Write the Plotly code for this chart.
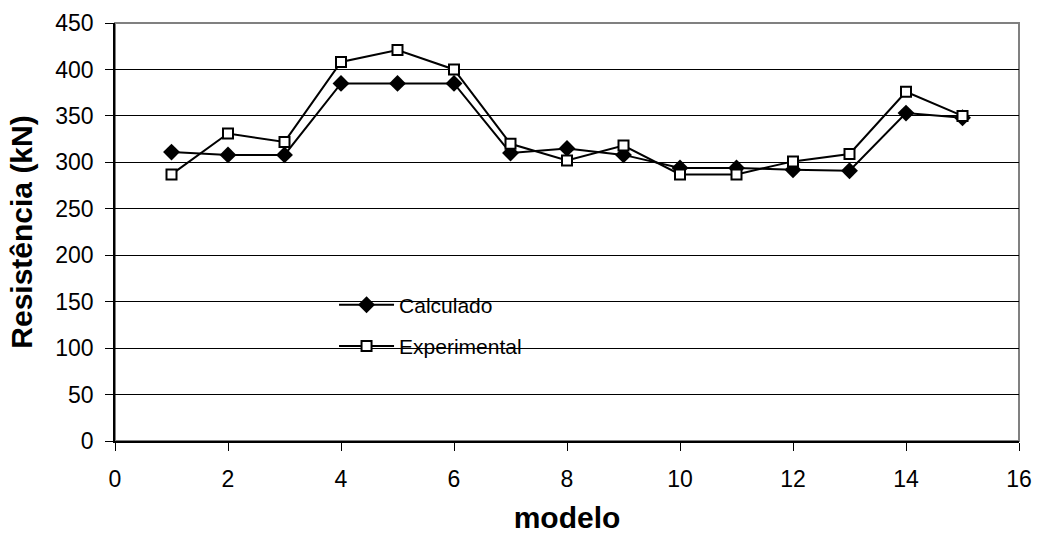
import plotly.graph_objects as go

modelo = list(range(1, 16))
calculado = [311, 308, 308, 385, 385, 385, 310, 315, 308, 294, 294, 292, 291, 353, 348]
experimental = [287, 331, 322, 408, 421, 400, 320, 302, 318, 287, 287, 301, 309, 376, 350]

fig = go.Figure()

fig.add_trace(go.Scatter(
    x=modelo, y=calculado, name="Calculado", mode="lines+markers",
    legendgroup="a",
    line=dict(color="black", width=2),
    marker=dict(symbol="diamond", size=13, color="black"),
))
fig.add_trace(go.Scatter(
    x=modelo, y=experimental, name="Experimental", mode="lines+markers",
    legendgroup="b",
    line=dict(color="black", width=2),
    marker=dict(symbol="square", size=10, color="white", line=dict(color="black", width=2)),
))

# gray plot-area frame
fig.add_shape(type="rect", xref="paper", yref="paper", x0=0, x1=1, y0=0, y1=1,
              line=dict(color="#808080", width=2), layer="below")
# white legend box covering the gridlines
fig.add_shape(type="rect", xref="paper", yref="paper", x0=0.2146, x1=0.479, y0=0.18, y1=0.372,
              line=dict(width=0), fillcolor="white", layer="between")

fig.update_layout(
    width=1037, height=534,
    margin=dict(l=115, r=18, t=23, b=93),
    paper_bgcolor="white", plot_bgcolor="white",
    font=dict(family="Liberation Sans, Arial", size=23, color="black"),
    xaxis=dict(
        range=[0, 16], dtick=2, tick0=0, showgrid=False, automargin=False,
        showline=True, linecolor="black", linewidth=1.5,
        ticks="outside", ticklen=8, tickcolor="black", ticklabelstandoff=9,
        title=dict(text="<b>modelo</b>", font=dict(size=30), standoff=24),
        zeroline=False,
    ),
    yaxis=dict(
        range=[0, 450], dtick=50, tick0=0, showgrid=True, gridcolor="black", gridwidth=1,
        automargin=False,
        showline=True, linecolor="black", linewidth=1.5,
        ticks="outside", ticklen=8, tickcolor="black", ticklabelstandoff=7,
        title=dict(text="<b>Resistência (kN)</b>", font=dict(size=30), standoff=14),
        zeroline=False,
    ),
    legend=dict(
        x=0.2423, y=0.374, xanchor="left", yanchor="top",
        bgcolor="rgba(0,0,0,0)", borderwidth=0,
        traceorder="grouped", tracegroupgap=11,
        itemwidth=55,
        font=dict(size=21),
    ),
)

fig.write_html("out.html", config={"displayModeBar": False},
               post_script="document.body.style.margin = '0';")
